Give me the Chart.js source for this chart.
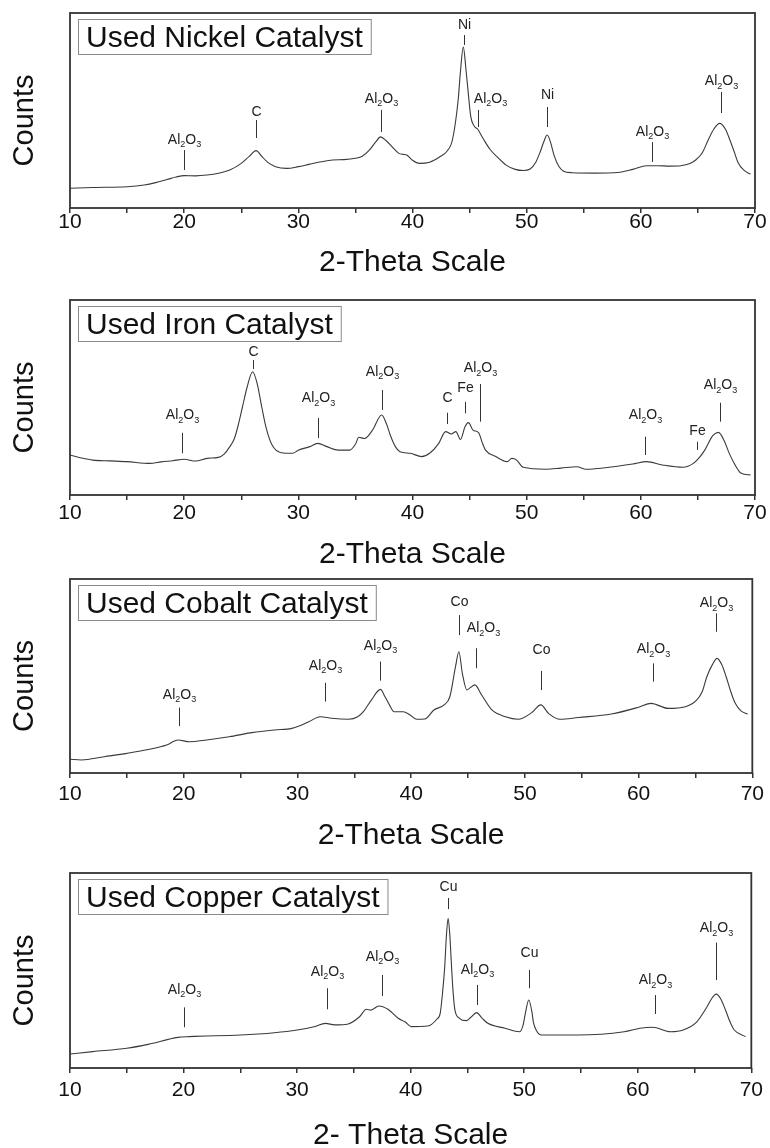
<!DOCTYPE html>
<html>
<head>
<meta charset="utf-8">
<script src="https://cdn.jsdelivr.net/npm/chart.js@4.4.1/dist/chart.umd.min.js"></script>
<style>
  html, body { margin: 0; padding: 0; background: #fff; }
  #wrap { position: relative; width: 770px; height: 1148px; }
  .panel { position: absolute; left: 0; width: 770px; }
</style>
</head>
<body>
<div id="wrap"></div>
<script>
const nickelTheta = [10, 12, 15, 16.5, 17.5, 18.5, 19.3, 20, 21, 22, 23, 24, 25, 25.7, 26.3, 26.8, 27.3, 28, 29, 30, 31, 32, 33, 34, 35, 35.6, 36.2, 36.8, 37.2, 37.7, 38.2, 38.8, 39.2, 39.5, 40, 40.6, 41.5, 42.4, 43, 43.5, 44, 44.2, 44.45, 44.7, 44.9, 45.1, 45.4, 45.7, 46.2, 46.8, 47.4, 48.2, 49, 49.7, 50.3, 50.8, 51.2, 51.5, 51.8, 52.1, 52.4, 52.8, 53.2, 54, 56, 58, 59.3, 60.5, 61.5, 62.5, 63.5, 64.3, 64.8, 65.4, 65.9, 66.4, 66.9, 67.4, 67.8, 68.2, 68.5, 69, 69.6];
const nickelCounts = [10.1, 10.5, 10.9, 11.8, 13, 14.6, 15.9, 16.6, 16.5, 16.9, 17.8, 19.5, 22.9, 26.5, 29.4, 26.5, 23.5, 21.2, 20.3, 21.2, 22.5, 23.7, 24.6, 24.8, 25.5, 26.5, 29.5, 34, 36.5, 34.5, 31.5, 28, 27.5, 27.2, 24.5, 22.9, 23.5, 26.3, 29, 35, 55.4, 70, 82.5, 70, 58, 47, 42, 40.5, 35.5, 30, 26.3, 22, 19.8, 19.2, 20, 23.5, 29, 34, 37.4, 33.5, 27, 21.5, 19, 18.1, 17.9, 18.2, 19.8, 21.7, 21.7, 21.5, 21.7, 22.8, 24.6, 28.5, 34.9, 40.5, 43.4, 40.5, 34.9, 28.5, 23.5, 19.5, 17.4];

const ironTheta = [10, 11, 12, 13.5, 15, 17, 18, 19, 20, 21, 22, 23, 23.5, 24, 24.4, 24.7, 25.1, 25.5, 26, 26.4, 26.8, 27.2, 27.7, 28.5, 29.5, 30, 31, 31.7, 32.5, 33.5, 34.5, 35, 35.3, 35.8, 36.5, 37.3, 37.7, 38.1, 38.5, 38.9, 39.8, 40.8, 41.5, 42.3, 42.9, 43.4, 43.8, 44.2, 44.6, 44.9, 45.3, 45.8, 46.1, 46.4, 47.3, 48.3, 48.7, 49.1, 49.7, 51.7, 53, 54.4, 55.2, 57.6, 59.3, 60.5, 61.9, 63.7, 64.6, 65.1, 65.6, 66.3, 66.8, 67.3, 67.7, 68.1, 68.8, 69.6];
const ironCounts = [20.5, 19, 17.9, 17.5, 17.1, 16.2, 17, 17.6, 18.3, 17.4, 18.8, 19.3, 21, 24.8, 29, 35, 45, 55, 63.2, 57, 45, 34, 25.6, 21.7, 21.4, 23, 24.8, 26.5, 24.8, 23, 23, 26, 29.6, 29, 33.3, 41, 36.8, 30, 24.8, 22.2, 21.4, 19.7, 21.4, 26.5, 32.5, 31.3, 32.5, 28.5, 35, 37.1, 33.3, 31.9, 27, 23, 19.7, 17.1, 18.8, 18, 14.2, 13.2, 13.8, 14.5, 13.2, 14.5, 15.9, 17.1, 15.4, 14.2, 16.2, 19, 23, 30.4, 32.1, 27.8, 22, 17.1, 11.1, 10.3];

const cobaltTheta = [10, 11, 13, 15, 17, 18.5, 19.5, 20.5, 22, 24, 26, 28, 29.5, 31, 32, 33, 34.5, 35.3, 35.8, 36.5, 37.3, 37.7, 38.1, 38.5, 39.3, 39.9, 40.5, 41.2, 42, 42.9, 43.4, 43.9, 44.2, 44.5, 44.9, 45.2, 45.6, 46.2, 47.1, 48.3, 49.4, 50.6, 51.4, 52.1, 53.1, 54.7, 57.6, 60, 61.1, 62.6, 64.1, 65.1, 65.6, 66, 66.5, 66.9, 67.3, 67.7, 68.1, 68.5, 69, 69.6];
const cobaltCounts = [7.1, 6.7, 8.4, 10.1, 12.2, 14.4, 17, 16.1, 17, 18.7, 20.8, 22.2, 23, 26.4, 29, 28.2, 27.7, 29, 31.6, 37.6, 43.1, 39.3, 35, 31.6, 31.6, 29.9, 27.7, 27.8, 32.5, 35.1, 39.3, 54.8, 62.5, 51.4, 42.8, 44, 45.4, 40.2, 32.5, 29, 27.7, 31.1, 35.1, 30.6, 27.7, 28.6, 30.4, 33.9, 35.9, 33.3, 34.2, 37.6, 42, 49.6, 56, 59.1, 56, 49.6, 42, 35.9, 32, 30.4];

const copperTheta = [10, 12, 15, 17, 19.5, 20.5, 25, 28, 30, 31.5, 32.5, 33.3, 34.5, 35.5, 36.1, 36.5, 37.2, 38, 38.9, 39.5, 40.05, 41.5, 42.3, 42.6, 42.8, 43, 43.15, 43.3, 43.45, 43.6, 43.75, 43.9, 44.3, 44.9, 45.3, 45.8, 46.3, 46.8, 48.3, 49.6, 49.9, 50.1, 50.4, 50.7, 50.8, 51.1, 51.5, 54.7, 58.8, 60.2, 61.3, 62.9, 64, 65.2, 66.1, 66.5, 66.9, 67.3, 67.7, 68.1, 68.5, 69.5];
const copperCounts = [7.2, 8.4, 10.1, 12.3, 15.7, 16.1, 16.9, 18.1, 19.5, 21.2, 22.9, 22.1, 22.6, 26.3, 30.1, 29.7, 31.8, 30.1, 25.5, 23.7, 21.2, 21.5, 25, 28, 38, 52, 68, 76.8, 68, 52, 38, 29.7, 25.5, 24.3, 26, 28.4, 25.5, 22.9, 20.4, 18.6, 22, 28, 34.9, 28, 23.7, 19, 16.9, 16.9, 18.6, 20.4, 20.9, 18.6, 19.5, 23.7, 31.4, 35.5, 37.9, 35.5, 30.1, 24, 19.5, 16.1];

// peak labels: name, 2-theta, text level, marker line top and bottom (in counts)
const nickelPeaks = [
  ['Al2O3', 20, 35, 29.7, 19.5],
  ['C', 26.3, 49, 45.1, 35.9],
  ['Al2O3', 37.2, 56, 50.3, 39],
  ['Ni', 44.5, 94, 88.7, 83.6],
  ['Al2O3', 45.7, 56, 50.3, 41.5, 12],
  ['Ni', 51.8, 58, 51.8, 41.5],
  ['Al2O3', 61, 39, 33.8, 23.6],
  ['Al2O3', 67, 65, 59.5, 48.7]
];
const ironPeaks = [
  ['Al2O3', 19.8, 41, 31.9, 21.4],
  ['C', 26.0, 73.5, 69.2, 64.6],
  ['Al2O3', 31.75, 49.6, 39.5, 29.2],
  ['Al2O3', 37.3, 63.2, 53.8, 43.6],
  ['C', 43.0, 49.7, 42.2, 36.4],
  ['Fe', 44.6, 55, 47.8, 41.9],
  ['Al2O3', 45.9, 65, 56.9, 37.6],
  ['Al2O3', 60.4, 41, 29.9, 20.5],
  ['Fe', 64.9, 32.5, 27.3, 23.1],
  ['Al2O3', 66.9, 56.4, 47.3, 37.6]
];
const cobaltPeaks = [
  ['Al2O3', 19.6, 40.2, 33.7, 24.2],
  ['Al2O3', 32.4, 55.2, 46.5, 36.8],
  ['Al2O3', 37.3, 65.5, 57.4, 47.6],
  ['Co', 44.2, 88.3, 81.4, 71.1],
  ['Al2O3', 45.7, 74.6, 64.3, 54, 7],
  ['Co', 51.4, 63.4, 52.6, 42.8],
  ['Al2O3', 61.3, 63.8, 56.5, 47.1],
  ['Al2O3', 66.8, 87.5, 82.3, 72.8]
];
const copperPeaks = [
  ['Al2O3', 20, 40, 31.1, 20.9],
  ['Al2O3', 32.6, 49.4, 40.9, 30.1],
  ['Al2O3', 37.5, 57.1, 47.7, 36.9],
  ['Cu', 43.3, 93, 87.2, 81.5],
  ['Al2O3', 45.8, 50.3, 42.6, 32.3],
  ['Cu', 50.4, 58.8, 50.3, 40.9],
  ['Al2O3', 61.5, 45.1, 37.4, 27.7],
  ['Al2O3', 66.9, 71.6, 64.3, 45.1]
];

const panelTitles = ['Used Nickel Catalyst', 'Used Iron Catalyst', 'Used Cobalt Catalyst', 'Used Copper Catalyst'];
const xTitles = ['2-Theta Scale', '2-Theta Scale', '2-Theta Scale', '2- Theta Scale'];
const yTitle = 'Counts';

const thetas = [nickelTheta, ironTheta, cobaltTheta, copperTheta];
const counts = [nickelCounts, ironCounts, cobaltCounts, copperCounts];
const peaks = [nickelPeaks, ironPeaks, cobaltPeaks, copperPeaks];

// layout (pixels)
const plotTops = [13, 300, 579, 873];
const plotBottoms = [208, 495, 773, 1068];
const labelGaps = [14, 18, 21, 22];
const titleGaps = [55, 60, 63, 68];
const FONT = "'Liberation Sans', Arial, Helvetica, sans-serif";
const INK = '#333';

function drawFormula(ctx, text, cx, cy) {
  // digits are drawn as subscripts
  const parts = text.match(/[A-Za-z]+|\d+/g);
  let w = 0;
  parts.forEach(p => {
    ctx.font = (/\d/.test(p) ? '9px ' : '14px ') + FONT;
    w += ctx.measureText(p).width;
  });
  let x = cx - w / 2;
  ctx.textBaseline = 'middle';
  ctx.textAlign = 'left';
  parts.forEach(p => {
    const sub = /\d/.test(p);
    ctx.font = (sub ? '9px ' : '14px ') + FONT;
    ctx.fillText(p, x, sub ? cy + 5 : cy);
    x += ctx.measureText(p).width;
  });
}

const decorPlugin = {
  id: 'decor',
  afterDraw(chart) {
    const {ctx, chartArea: a, scales: {x, y}} = chart;
    const i = chart.options.plugins.decor.index;
    ctx.save();
    // frame
    ctx.strokeStyle = INK;
    ctx.lineWidth = 1.8;
    ctx.strokeRect(a.left, a.top, a.right - a.left, a.bottom - a.top);

    // title box
    ctx.font = '30px ' + FONT;
    const tw = ctx.measureText(panelTitles[i]).width;
    const bx = a.left + 8, by = a.top + 6, bh = 35;
    ctx.strokeStyle = '#8a8a8a';
    ctx.lineWidth = 1;
    ctx.strokeRect(bx + 0.5, by + 0.5, tw + 16, bh);
    ctx.fillStyle = '#111';
    ctx.textBaseline = 'middle';
    ctx.textAlign = 'left';
    ctx.fillText(panelTitles[i], bx + 8, by + bh / 2 + 2);

    // peak labels
    ctx.strokeStyle = INK;
    ctx.fillStyle = '#222';
    ctx.lineWidth = 1;
    peaks[i].forEach(([name, th, textAt, top, bot, dx]) => {
      const px = Math.round(x.getPixelForValue(th)) + 0.5;
      ctx.beginPath();
      ctx.moveTo(px, y.getPixelForValue(top));
      ctx.lineTo(px, y.getPixelForValue(bot));
      ctx.stroke();
      drawFormula(ctx, name, px + (dx || 0), y.getPixelForValue(textAt));
    });

    // y axis title
    ctx.save();
    ctx.translate(25, (a.top + a.bottom) / 2 + 10);
    ctx.rotate(-Math.PI / 2);
    ctx.font = '29px ' + FONT;
    ctx.fillStyle = '#111';
    ctx.textAlign = 'center';
    ctx.textBaseline = 'middle';
    ctx.fillText(yTitle, 0, 0);
    ctx.restore();
    ctx.restore();
  }
};

const wrap = document.getElementById('wrap');

panelTitles.forEach((title, i) => {
  const top = plotTops[i] - 13;
  const next = i < 3 ? plotTops[i + 1] - 13 : 1148;
  const H = next - top;
  const plotH = plotBottoms[i] - plotTops[i];
  const axisH = titleGaps[i] + 15;
  const padBottom = H - 13 - plotH - axisH;

  const div = document.createElement('div');
  div.className = 'panel';
  div.style.top = top + 'px';
  div.style.height = H + 'px';
  const canvas = document.createElement('canvas');
  canvas.width = 770;
  canvas.height = H;
  div.appendChild(canvas);
  wrap.appendChild(div);

  new Chart(canvas.getContext('2d'), {
    type: 'line',
    data: {
      datasets: [{
        data: thetas[i].map((t, k) => ({x: t, y: counts[i][k]})),
        borderColor: '#3a3a3a',
        borderWidth: 1.1,
        pointRadius: 0,
        fill: false,
        cubicInterpolationMode: 'monotone'
      }]
    },
    options: {
      responsive: false,
      devicePixelRatio: 1,
      animation: false,
      layout: {padding: {left: 70, right: 15, top: 13, bottom: padBottom}},
      plugins: {
        legend: {display: false},
        tooltip: {enabled: false},
        decor: {index: i}
      },
      scales: {
        x: {
          type: 'linear',
          min: 10,
          max: 70,
          border: {display: false},
          grid: {drawOnChartArea: false, drawTicks: true, tickLength: 5, color: INK, lineWidth: 1.5},
          ticks: {
            stepSize: 5,
            autoSkip: false,
            maxRotation: 0,
            padding: labelGaps[i] - 15,
            color: '#111',
            font: {family: FONT, size: 21, lineHeight: 1},
            callback: v => (v % 10 === 0 ? v : '')
          },
          title: {
            display: true,
            text: xTitles[i],
            color: '#111',
            padding: 0,
            font: {family: FONT, size: 30, lineHeight: 1}
          },
          afterFit: axis => { axis.height = axisH; }
        },
        y: {
          display: false,
          min: 0,
          max: 100
        }
      }
    },
    plugins: [decorPlugin]
  });
});
</script>
</body>
</html>
